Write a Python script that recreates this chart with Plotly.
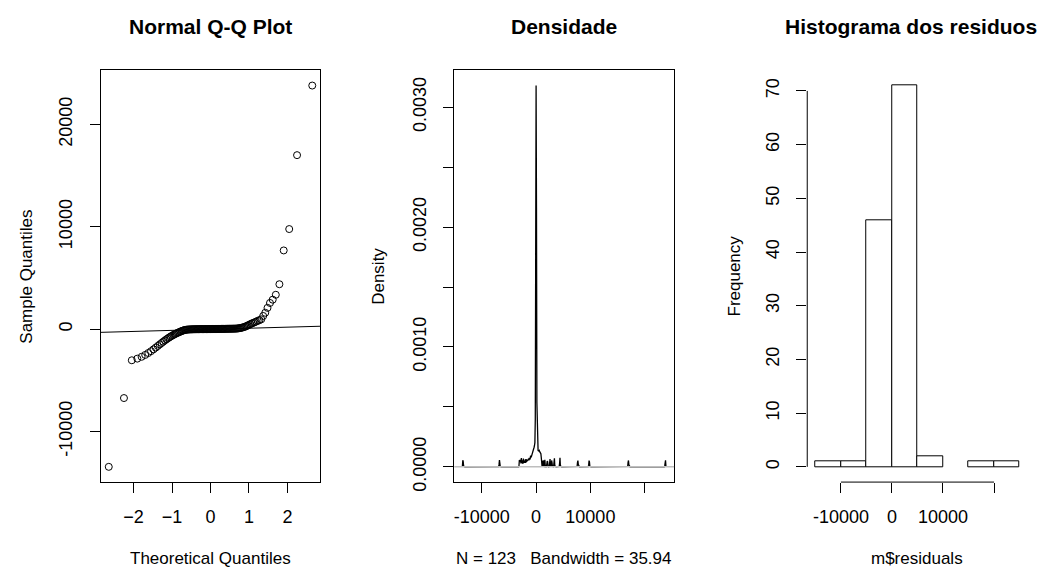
import numpy as np
import plotly.graph_objects as go
from statistics import NormalDist

# ---------------- data ----------------
residuals = [
    -13450, -6730,
    -3040, -2880, -2700, -2520, -2330, -2150, -1970, -1800, -1640, -1490, -1350, -1220,
    -1100, -990, -890, -800, -715, -640, -570, -505, -445, -390, -340, -290, -245, -200, -160, -125,
    -95, -72, -56, -44, -36, -30, -25, -21, -18, -15, -12, -10, -8, -6, -5, -4, -3, -1,
    1, 1, 1, 2, 2, 3, 3, 4, 4, 5, 6, 7, 8, 9, 10, 11, 12, 13, 14, 15, 16, 17, 18, 20,
    21, 23, 24, 26, 27, 29, 30, 32, 34, 35, 37, 39, 41, 42, 44, 46, 48, 50, 52, 55,
    60, 70, 85, 100, 120, 145, 175, 210, 250, 300, 360, 420, 490, 550, 610, 670, 740, 810, 880,
    960, 1290, 1600, 2080, 2560, 2880, 3360, 4390, 7690, 9780, 17000, 23800,
]
bandwidth = 35.94

qq_xticks = [-2, -1, 0, 1, 2]
qq_yticks = [-10000, 0, 10000, 20000]
qq_yticklabels = ["-10000", "0", "10000", "20000"]
dens_xticks = [-10000, 0, 10000, 20000]
dens_xticklabels = ["-10000", "0", "10000", ""]
dens_yticks = [0, 0.0005, 0.0010, 0.0015, 0.0020, 0.0025, 0.0030]
dens_yticklabels = ["0.0000", "", "0.0010", "", "0.0020", "", "0.0030"]
hist_start, hist_end, hist_size = -15000, 25000, 5000
hist_xticks = [-10000, 0, 10000, 20000]
hist_xticklabels = ["-10000", "0", "10000", ""]
hist_yticks = [0, 10, 20, 30, 40, 50, 60, 70]

titles = ["Normal Q-Q Plot", "Densidade", "Histograma dos residuos"]
xlabels = ["Theoretical Quantiles",
           "N = 123\u00a0\u00a0\u00a0Bandwidth = 35.94",
           "m$residuals"]
ylabels = ["Sample Quantiles", "Density", "Frequency"]

# ---------------- computations ----------------
res = np.sort(np.asarray(residuals, float))
n = len(res)
nd = NormalDist()
theo = np.array([nd.inv_cdf((i - 0.5) / n) for i in range(1, n + 1)])

q1, q3 = np.quantile(res, [0.25, 0.75])
x1, x3 = nd.inv_cdf(0.25), nd.inv_cdf(0.75)
slope = (q3 - q1) / (x3 - x1)
inter = q1 - slope * x1


def r_range(lo, hi):
    d = (hi - lo) * 0.04
    return [lo - d, hi + d]


def r_density(x, bw, n_user=512, cut=3):
    x = np.asarray(x, float)
    N = len(x)
    w = 1.0 / N
    m = 512
    frm = x.min() - cut * bw
    to = x.max() + cut * bw
    lo = frm - 4 * bw
    up = to + 4 * bw
    y = np.zeros(2 * m)
    xdelta = (up - lo) / (m - 1)
    for xi in x:
        xpos = (xi - lo) / xdelta
        ix = int(np.floor(xpos))
        fx = xpos - ix
        if 0 <= ix <= m - 2:
            y[ix] += w * (1 - fx)
            y[ix + 1] += w * fx
        elif ix == -1:
            y[0] += w * fx
        elif ix == m - 1:
            y[ix] += w * (1 - fx)
    kords = np.linspace(0, 2 * (up - lo), 2 * m)
    kords[m + 1:2 * m] = -kords[m - 1:0:-1]
    kords = np.exp(-0.5 * (kords / bw) ** 2) / (bw * np.sqrt(2 * np.pi))
    conv = np.fft.ifft(np.fft.fft(y) * np.conj(np.fft.fft(kords)))
    kd = np.maximum(0, conv.real[:m])
    xords = np.linspace(lo, up, m)
    xs = np.linspace(frm, to, n_user)
    ys = np.interp(xs, xords, kd)
    return xs, ys


dx, dy = r_density(res, bandwidth)

# ---------------- layout geometry ----------------
W, H = 1046, 569
FONT = "Liberation Sans, Arial, sans-serif"
TICK = 18
LAB = 17
MAIN = 21

boxes = [(91.7, 311.7), (445.7, 665.7), (799.0, 1019.7)]
title_cx = [201.7, 555.7, 903.0]
top, bottom = 63.3, 481.7


def px(x):
    return x / W


def py(y):
    return 1 - y / H


ydom = [py(bottom), py(top)]

base_axis = dict(showgrid=False, zeroline=False, ticks="outside", ticklen=10,
                 tickwidth=1, tickcolor="black",
                 tickfont=dict(family=FONT, size=TICK, color="black"),
                 linecolor="black", linewidth=1)

fig = go.Figure()

# QQ plot
fig.add_trace(go.Scatter(x=theo, y=res, mode="markers", xaxis="x", yaxis="y",
                         marker=dict(symbol="circle-open", size=7, color="black",
                                     line=dict(width=1, color="black")),
                         showlegend=False, hoverinfo="skip"))
qx_range = r_range(theo.min(), theo.max())
fig.add_trace(go.Scatter(x=qx_range, y=[inter + slope * v for v in qx_range],
                         mode="lines", xaxis="x", yaxis="y",
                         line=dict(color="black", width=1), showlegend=False,
                         hoverinfo="skip"))

# Density
fig.add_trace(go.Scatter(x=dx, y=dy, mode="lines", xaxis="x2", yaxis="y2",
                         line=dict(color="black", width=1.3), showlegend=False,
                         hoverinfo="skip"))

# Histogram
fig.add_trace(go.Histogram(x=residuals, xaxis="x3", yaxis="y3",
                           xbins=dict(start=hist_start, end=hist_end, size=hist_size),
                           autobinx=False,
                           marker=dict(color="white", line=dict(color="black", width=1)),
                           showlegend=False, hoverinfo="skip"))

counts, _ = np.histogram(residuals, bins=np.arange(hist_start, hist_end + 1, hist_size))

fig.update_layout(
    width=W, height=H, margin=dict(l=0, r=0, t=0, b=0),
    paper_bgcolor="white", plot_bgcolor="white", bargap=0,
    font=dict(family=FONT, color="black"),
    xaxis=dict(base_axis, domain=[px(boxes[0][0]), px(boxes[0][1])], anchor="y",
               range=qx_range, tickvals=qq_xticks, showline=True, mirror=True,
               ticklabelstandoff=8),
    yaxis=dict(base_axis, domain=ydom, anchor="x",
               range=r_range(res.min(), res.max()), tickvals=qq_yticks,
               ticktext=qq_yticklabels,
               tickangle=-90, showline=True, mirror=True, ticklabelstandoff=10),
    xaxis2=dict(base_axis, domain=[px(boxes[1][0]), px(boxes[1][1])], anchor="y2",
                range=r_range(dx.min(), dx.max()), tickvals=dens_xticks,
                ticktext=dens_xticklabels, showline=True, mirror=True,
                ticklabelstandoff=8),
    yaxis2=dict(base_axis, domain=ydom, anchor="x2",
                range=r_range(dy.min(), dy.max()), tickvals=dens_yticks,
                ticktext=dens_yticklabels, tickangle=-90, showline=True,
                mirror=True, ticklabelstandoff=10),
    xaxis3=dict(base_axis, domain=[px(boxes[2][0]), px(boxes[2][1])], anchor="y3",
                range=r_range(hist_start, hist_end), tickvals=hist_xticks,
                ticktext=hist_xticklabels, showline=False, ticklabelstandoff=8),
    yaxis3=dict(base_axis, domain=ydom, anchor="x3",
                range=r_range(0, counts.max()), tickvals=hist_yticks,
                tickangle=-90, showline=False, ticklabelstandoff=10),
)

shapes = [
    dict(type="line", xref="x2 domain", x0=0, x1=1, yref="y2", y0=0, y1=0,
         line=dict(color="#BEBEBE", width=1.5), layer="above"),
    dict(type="line", xref="x3", x0=hist_xticks[0], x1=hist_xticks[-1],
         yref="y3 domain", y0=0, y1=0, line=dict(color="black", width=1)),
    dict(type="line", xref="x3 domain", x0=0, x1=0, yref="y3",
         y0=hist_yticks[0], y1=hist_yticks[-1], line=dict(color="black", width=1)),
]
fig.update_layout(shapes=shapes)

ann = []
ylab_x = [17.5, 370.0, 726.0]
for k in range(3):
    cx = (boxes[k][0] + boxes[k][1]) / 2
    ann.append(dict(text="<b>%s</b>" % titles[k], x=px(title_cx[k]), y=py(18.5),
                    xref="paper", yref="paper", xanchor="center", yanchor="middle",
                    showarrow=False, font=dict(family=FONT, size=MAIN, color="black")))
    ann.append(dict(text=xlabels[k], x=px(cx), y=py(559), xref="paper", yref="paper",
                    xanchor="center", yanchor="middle", showarrow=False,
                    font=dict(family=FONT, size=LAB, color="black")))
    ann.append(dict(text=ylabels[k], x=px(ylab_x[k]), y=py((top + bottom) / 2),
                    xref="paper", yref="paper", xanchor="center", yanchor="middle",
                    textangle=-90, showarrow=False,
                    font=dict(family=FONT, size=LAB, color="black")))
fig.update_layout(annotations=ann)

fig.write_html("out.html")
